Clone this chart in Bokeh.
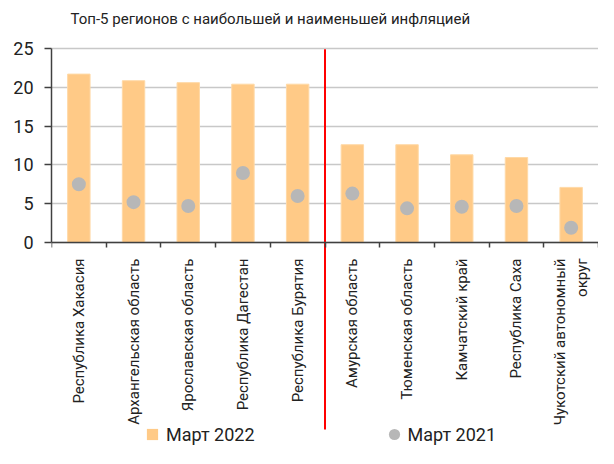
import math
from bokeh.plotting import figure
from bokeh.models import (Range1d, FixedTicker, Legend, LegendItem, Label,
                          ColumnDataSource)
from bokeh.embed import file_html
from bokeh.resources import INLINE

title_text = "Топ-5 регионов с наибольшей и наименьшей инфляцией"
regions = ["Республика Хакасия", "Архангельская область", "Ярославская область",
           "Республика Дагестан", "Республика Бурятия", "Амурская область",
           "Тюменская область", "Камчатский край", "Республика Саха",
           "Чукотский автономный\nокруг"]
mar2022 = [21.7, 20.85, 20.6, 20.4, 20.4, 12.6, 12.6, 11.3, 10.95, 7.1]
mar2021 = [7.5, 5.2, 4.7, 8.95, 6.0, 6.3, 4.4, 4.6, 4.7, 1.9]
y_ticks = [0, 5, 10, 15, 20, 25]
series_names = ["Март 2022", "Март 2021"]
split_after = 5

FONT = "Roboto"
TXT = "#222222"
AX = "#404040"
BAR = "#FFCA87"
DOT = "#B7B7B7"

W, H = 598, 448
LEFT = 51
AXIS_PX = 242          # pixel row of y = 0
PX_PER_UNIT = 7.76
y_top = AXIS_PX / PX_PER_UNIT
y_bot = -(H - AXIS_PX) / PX_PER_UNIT

xs = [i + 0.5 for i in range(len(regions))]
src = ColumnDataSource(dict(x=xs, v22=mar2022, v21=mar2021))

p = figure(width=W, height=H, output_backend="svg", toolbar_location=None,
           x_range=Range1d(0, len(regions)), y_range=Range1d(y_bot, y_top),
           min_border_left=LEFT, min_border_right=0, min_border_top=0,
           min_border_bottom=0)
p.outline_line_color = None
p.background_fill_color = "white"

# red separator
p.segment(x0=[split_after], y0=[max(y_ticks) - 0.1], x1=[split_after],
          y1=[-24.1], line_color="#FF0000", line_width=2)

bars = p.vbar(x="x", top="v22", width=0.41, source=src, fill_color=BAR,
              line_color="#FFD9A6", line_width=1)
dots = p.scatter(x="x", y="v21", size=14, source=src, fill_color=DOT,
                 line_color=None)
# zero-size square markers: only used for the legend swatch
sq = p.scatter(x="x", y="v22", size=0, source=src, marker="square",
               fill_color=BAR, line_color=None)

# axes
xa = p.xaxis[0]
xa.fixed_location = 0
xa.ticker = FixedTicker(ticks=xs, minor_ticks=list(range(len(regions) + 1)))
xa.major_label_overrides = {x: r for x, r in zip(xs, regions)}
xa.major_label_orientation = math.pi / 2
xa.major_label_text_font = FONT
xa.major_label_text_font_size = "15px"
xa.major_label_text_color = TXT
xa.major_label_standoff = 11
xa.major_tick_out = 0
xa.major_tick_in = 0
xa.minor_tick_out = 5
xa.minor_tick_in = 0
xa.minor_tick_line_color = AX
xa.minor_tick_line_width = 1.5
xa.axis_line_color = AX
xa.axis_line_width = 1.5

ya = p.yaxis[0]
ya.bounds = (min(y_ticks), max(y_ticks))
ya.ticker = FixedTicker(ticks=y_ticks)
ya.major_label_text_font = FONT
ya.major_label_text_font_size = "18px"
ya.major_label_text_color = TXT
ya.major_label_standoff = 11
ya.major_tick_out = 7
ya.major_tick_in = 0
ya.minor_tick_line_color = None
ya.major_tick_line_color = AX
ya.major_tick_line_width = 1.5
ya.axis_line_color = AX
ya.axis_line_width = 1.5

p.xgrid.grid_line_color = None
p.ygrid.ticker = FixedTicker(ticks=y_ticks)
p.ygrid.grid_line_color = "#C8C8C8"
p.ygrid.grid_line_width = 1.5

# title
p.add_layout(Label(x=4.0, y=(AXIS_PX - 18) / PX_PER_UNIT, text=title_text,
                   text_align="center", text_baseline="middle", text_font=FONT,
                   text_font_size="15px", text_color=TXT))

leg = Legend(items=[LegendItem(label=series_names[0], renderers=[sq]),
                    LegendItem(label=series_names[1], renderers=[dots])],
             orientation="horizontal", location=(87, 0),
             glyph_width=28, glyph_height=28, label_standoff=-5, spacing=125,
             label_text_font=FONT, label_text_font_size="18px",
             label_text_color=TXT, label_text_baseline="middle",
             padding=0, margin=0, background_fill_alpha=0,
             border_line_color=None)
p.add_layout(leg)

open("out.html", "w").write(file_html(p, INLINE))
